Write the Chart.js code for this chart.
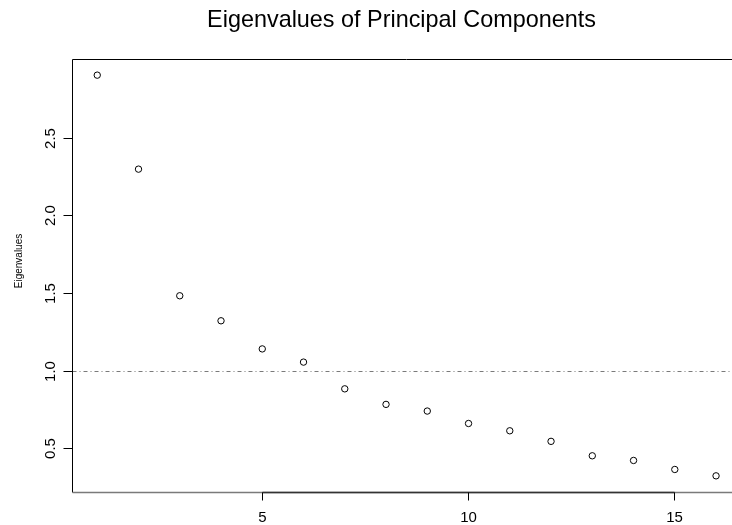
<!DOCTYPE html>
<html>
<head>
<meta charset="utf-8">
<script src="https://cdn.jsdelivr.net/npm/chart.js@4/dist/chart.umd.min.js"></script>
<style>
  html, body { margin: 0; padding: 0; background: #fff; overflow: hidden; }
  #wrap { width: 745px; height: 525px; }
</style>
</head>
<body>
<div id="wrap"><canvas id="c" width="745" height="525"></canvas></div>
<script>
const chartTitle = 'Eigenvalues of Principal Components';
const yAxisTitle = 'Eigenvalues';
const components = [1, 2, 3, 4, 5, 6, 7, 8, 9, 10, 11, 12, 13, 14, 15, 16];
const eigenvalues = [2.905, 2.300, 1.485, 1.324, 1.143, 1.058, 0.886, 0.786, 0.743, 0.663, 0.616, 0.548, 0.455, 0.425, 0.367, 0.326];
const xTickValues = [5, 10, 15];
const xTickLabels = ['5', '10', '15'];
const yTickValues = [0.5, 1.0, 1.5, 2.0, 2.5];
const yTickLabels = ['0.5', '1.0', '1.5', '2.0', '2.5'];
const referenceLine = 1.0;

const FONT = '"Liberation Sans", Arial, Helvetica, sans-serif';

const rPlot = {
  id: 'rPlot',
  beforeDatasetsDraw(chart) {
    const { ctx, chartArea: a, scales: { y } } = chart;
    ctx.save();
    ctx.strokeStyle = '#7a7a7a';
    ctx.lineWidth = 1;
    ctx.setLineDash([4, 3, 1, 3]);
    const py = Math.floor(y.getPixelForValue(referenceLine)) + 0.5;
    ctx.beginPath();
    ctx.moveTo(a.left, py);
    ctx.lineTo(a.right, py);
    ctx.stroke();
    ctx.restore();
  },
  afterDraw(chart) {
    const { ctx, chartArea: a, scales: { x, y } } = chart;
    const L = Math.floor(a.left) + 0.5, T = Math.floor(a.top) + 0.5;
    const R = Math.floor(a.right) + 0.5, B = Math.floor(a.bottom) + 0.5;
    ctx.save();
    ctx.setLineDash([]);
    ctx.lineWidth = 1;
    ctx.strokeStyle = '#000';
    // box
    ctx.beginPath();
    ctx.moveTo(L, B); ctx.lineTo(L, T); ctx.lineTo(R, T); ctx.lineTo(R, B);
    ctx.stroke();
    ctx.strokeStyle = '#7a7a7a';
    ctx.lineWidth = 1.5;
    ctx.beginPath();
    ctx.moveTo(L, B); ctx.lineTo(R, B);
    ctx.stroke();
    // x axis
    ctx.strokeStyle = '#333';
    ctx.lineWidth = 1.5;
    const xp = xTickValues.map(v => Math.floor(x.getPixelForValue(v)) + 0.5);
    ctx.beginPath();
    ctx.moveTo(xp[0], B); ctx.lineTo(xp[xp.length - 1], B);
    ctx.stroke();
    ctx.lineWidth = 1;
    ctx.strokeStyle = '#000';
    ctx.beginPath();
    xp.forEach(p => { ctx.moveTo(p, B); ctx.lineTo(p, B + 8); });
    ctx.stroke();
    ctx.fillStyle = '#000';
    ctx.font = '15px ' + FONT;
    ctx.textAlign = 'center';
    ctx.textBaseline = 'middle';
    xp.forEach((p, i) => ctx.fillText(xTickLabels[i], p, B + 25));
    // y axis
    const yp = yTickValues.map(v => Math.floor(y.getPixelForValue(v)) + 0.5);
    ctx.beginPath();
    yp.forEach(p => { ctx.moveTo(L - 9, p); ctx.lineTo(L, p); });
    ctx.stroke();
    yp.forEach((p, i) => {
      ctx.save();
      ctx.translate(L - 21.5, p);
      ctx.rotate(-Math.PI / 2);
      ctx.fillText(yTickLabels[i], 0, 0);
      ctx.restore();
    });
    // y axis title
    ctx.font = '10px ' + FONT;
    ctx.save();
    ctx.translate(19, 261);
    ctx.rotate(-Math.PI / 2);
    ctx.fillText(yAxisTitle, 0, 0);
    ctx.restore();
    // main title
    ctx.font = '23.4px ' + FONT;
    ctx.textBaseline = 'alphabetic';
    ctx.fillText(chartTitle, 401.5, 27);
    ctx.restore();
  }
};

new Chart(document.getElementById('c'), {
  type: 'scatter',
  data: {
    datasets: [{
      data: components.map((c, i) => ({ x: c, y: eigenvalues[i] })),
      pointStyle: 'circle',
      pointRadius: 3.2,
      pointHoverRadius: 3.2,
      borderColor: '#000',
      backgroundColor: 'rgba(0,0,0,0)',
      borderWidth: 1,
      showLine: false
    }]
  },
  options: {
    responsive: false,
    animation: false,
    devicePixelRatio: 1,
    events: [],
    layout: { padding: { left: 72.5, top: 59.3, right: 4, bottom: 33 } },
    plugins: { legend: { display: false }, tooltip: { enabled: false }, title: { display: false } },
    scales: {
      x: { type: 'linear', display: false, min: 0.4, max: 16.6 },
      y: { type: 'linear', display: false, min: 0.222, max: 3.007 }
    }
  },
  plugins: [rPlot]
});
</script>
</body>
</html>
